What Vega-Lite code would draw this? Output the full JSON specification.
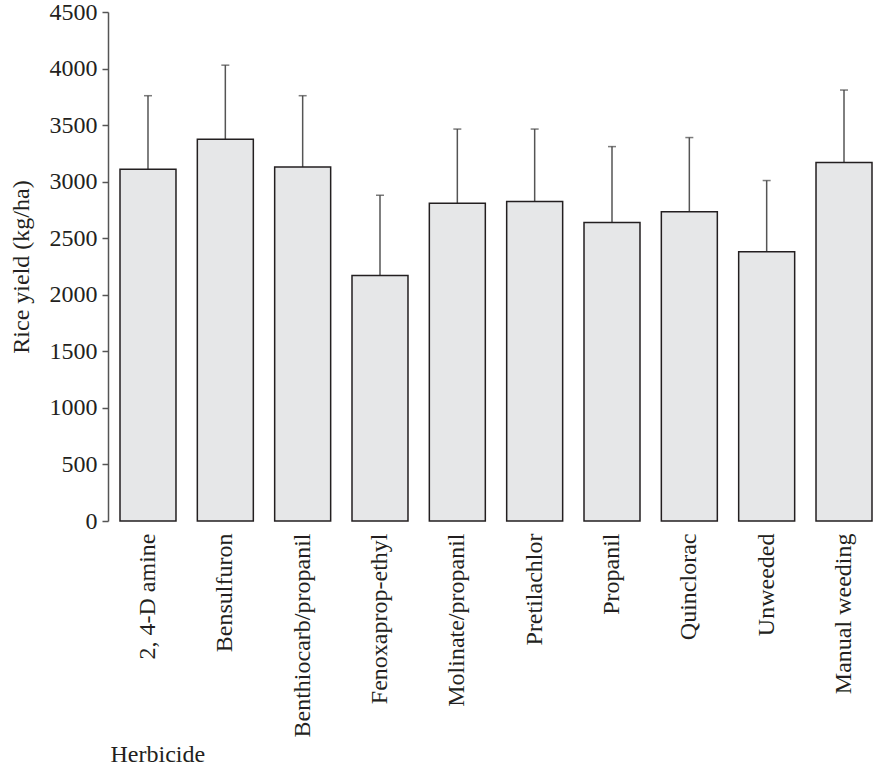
{
  "$schema": "https://vega.github.io/schema/vega-lite/v6.json",
  "width": 765,
  "height": 509,
  "autosize": {"type": "none"},
  "padding": {"left": 108, "top": 12, "right": 0, "bottom": 244},
  "background": "white",
  "config": {
    "view": {"stroke": null},
    "font": "Times New Roman, Liberation Serif, serif"
  },
  "data": {
    "values": [
      {"herbicide": "2, 4-D amine", "yield": 3110, "upper": 3760},
      {"herbicide": "Bensulfuron", "yield": 3375, "upper": 4030},
      {"herbicide": "Benthiocarb/propanil", "yield": 3130, "upper": 3760},
      {"herbicide": "Fenoxaprop-ethyl", "yield": 2170, "upper": 2880},
      {"herbicide": "Molinate/propanil", "yield": 2810, "upper": 3465},
      {"herbicide": "Pretilachlor", "yield": 2825, "upper": 3465},
      {"herbicide": "Propanil", "yield": 2640, "upper": 3310},
      {"herbicide": "Quinclorac", "yield": 2735, "upper": 3390},
      {"herbicide": "Unweeded", "yield": 2380, "upper": 3010},
      {"herbicide": "Manual weeding", "yield": 3170, "upper": 3810}
    ]
  },
  "encoding": {
    "x": {
      "field": "herbicide",
      "type": "nominal",
      "sort": null,
      "scale": {"range": [12, 764], "paddingInner": 0.276, "paddingOuter": 0},
      "axis": {
        "title": "Herbicide",
        "domain": false,
        "ticks": false,
        "labelAngle": 270,
        "labelAlign": "right",
        "labelBaseline": "middle",
        "labelPadding": 12,
        "labelFont": "Times New Roman, Liberation Serif, serif",
        "labelFontSize": 24,
        "labelColor": "#231f20",
        "labelLimit": 300,
        "titleFont": "Times New Roman, Liberation Serif, serif",
        "titleFontSize": 24,
        "titleFontWeight": "normal",
        "titleColor": "#231f20",
        "titleAnchor": "start",
        "titleAlign": "left",
        "titleBaseline": "alphabetic",
        "titleX": 2,
        "titleY": 240
      }
    }
  },
  "layer": [
    {
      "mark": {"type": "rule", "color": "#555555", "strokeWidth": 1.5},
      "encoding": {
        "y": {"field": "yield", "type": "quantitative"},
        "y2": {"field": "upper"}
      }
    },
    {
      "mark": {"type": "tick", "color": "#444444", "size": 8, "thickness": 1.5},
      "encoding": {
        "y": {"field": "upper", "type": "quantitative"}
      }
    },
    {
      "mark": {"type": "bar", "fill": "#e6e7e8", "stroke": "#231f20", "strokeWidth": 1.5},
      "encoding": {
        "y": {
          "field": "yield",
          "type": "quantitative",
          "scale": {"domain": [0, 4500], "nice": false},
          "axis": {
            "title": "Rice yield (kg/ha)",
            "values": [0, 500, 1000, 1500, 2000, 2500, 3000, 3500, 4000, 4500],
            "format": "d",
            "grid": false,
            "domainColor": "#555555",
            "domainWidth": 1.5,
            "tickColor": "#555555",
            "tickWidth": 1.5,
            "tickSize": 6,
            "labelPadding": 5,
            "labelFont": "Times New Roman, Liberation Serif, serif",
            "labelFontSize": 24,
            "labelColor": "#231f20",
            "titleFont": "Times New Roman, Liberation Serif, serif",
            "titleFontSize": 24,
            "titleFontWeight": "normal",
            "titleColor": "#231f20",
            "titlePadding": 16
          }
        }
      }
    },
    {
      "mark": {"type": "rule", "color": "#555555", "strokeWidth": 1.5},
      "encoding": {
        "y": {"datum": 0, "type": "quantitative"}
      }
    }
  ]
}
